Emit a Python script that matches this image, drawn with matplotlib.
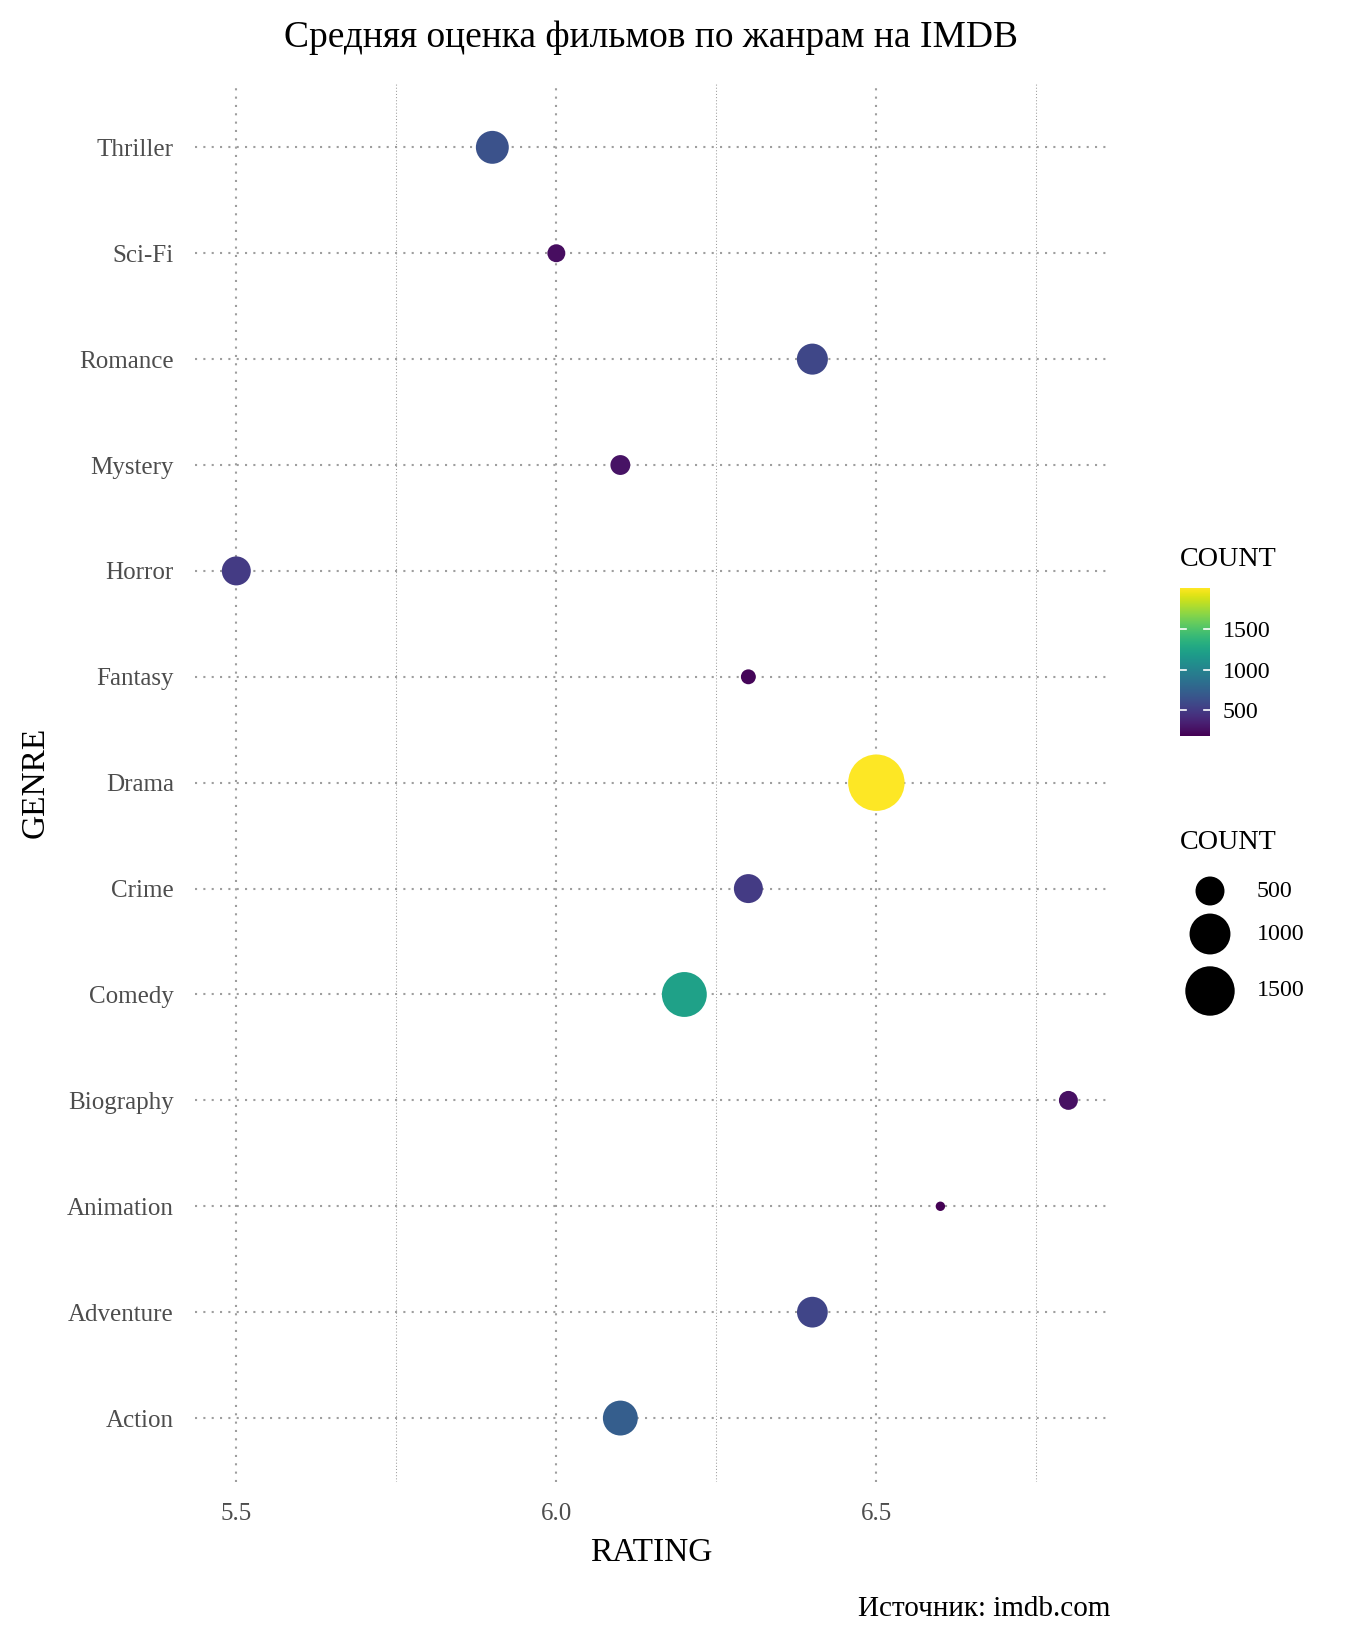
import matplotlib.pyplot as plt
import numpy as np
from matplotlib import cm
from matplotlib.colors import Normalize

plt.rcParams['font.family'] = ['Liberation Serif', 'DejaVu Serif']

genres = ['Action', 'Adventure', 'Animation', 'Biography', 'Comedy', 'Crime',
          'Drama', 'Fantasy', 'Horror', 'Mystery', 'Romance', 'Sci-Fi', 'Thriller']
rating = [6.1, 6.4, 6.6, 6.8, 6.2, 6.3, 6.5, 6.3, 5.5, 6.1, 6.4, 6.0, 5.9]
count = [720, 560, 185, 260, 1220, 500, 2000, 210, 500, 275, 570, 245, 640]
legend_counts = [500, 1000, 1500]

DPI = 150
W, H = 1350, 1650
cmin, cmax = min(count), max(count)
norm = Normalize(cmin, cmax)
cmap = cm.viridis


def diam_pt(c):
    # ggplot-style area scale, size range 1..6
    t = (np.asarray(c, dtype=float) - cmin) / (cmax - cmin)
    px = 9.4 * (1 + 5 * np.sqrt(t))
    return px * 72 / DPI


fig = plt.figure(figsize=(W / DPI, H / DPI), dpi=DPI)
ax = fig.add_axes([194.7 / W, 1 - 1481.6 / H, (1110 - 194.7) / W, (1481.6 - 83.8) / H])

y = np.arange(len(genres))
ax.scatter(rating, y, s=diam_pt(count) ** 2, c=cmap(norm(count)), linewidths=0, zorder=3)

ax.set_xlim(5.435, 6.865)
ax.set_ylim(-0.6, len(genres) - 0.4)
ax.set_xticks([5.5, 6.0, 6.5])
ax.set_xticks([5.75, 6.25, 6.75], minor=True)
ax.set_yticks(y)
ax.set_yticklabels(genres)
ax.set_axisbelow(True)
ax.grid(True, which='major', color='#9e9e9e', linewidth=1.0, linestyle=(0, (1, 3)))
ax.grid(True, which='minor', axis='x', color='#9e9e9e', linewidth=0.5, linestyle=(0, (1, 2)))
for s in ax.spines.values():
    s.set_visible(False)
ax.tick_params(which='both', length=0, labelsize=12, labelcolor='#4d4d4d')
ax.tick_params(axis='y', pad=10)
ax.tick_params(axis='x', pad=10.5)

fig.text(651 / W, 1 - 38 / H, 'Средняя оценка фильмов по жанрам на IMDB',
         ha='center', va='center', fontsize=18)
fig.text(651 / W, 1 - 1553 / H, 'RATING', ha='center', va='center', fontsize=16)
fig.text(35 / W, 1 - 782 / H, 'GENRE', ha='center', va='center', fontsize=16, rotation=90)
fig.text(1110 / W, 1 - 1609 / H, 'Источник: imdb.com', ha='right', va='center', fontsize=14)

# colour bar legend
cax = fig.add_axes([1180 / W, 1 - 736 / H, 30 / W, 148 / H])
grad = np.linspace(cmin, cmax, 300).reshape(-1, 1)
cax.imshow(grad, aspect='auto', cmap=cmap, norm=norm, origin='lower',
           extent=[0, 1, cmin, cmax])
for v in legend_counts:
    cax.plot([0, 0.2], [v, v], color='white', lw=0.8)
    cax.plot([0.8, 1], [v, v], color='white', lw=0.8)
cax.set_xlim(0, 1)
cax.set_ylim(cmin, cmax)
cax.set_xticks([])
cax.yaxis.tick_right()
cax.set_yticks(legend_counts)
cax.set_yticklabels([str(v) for v in legend_counts])
cax.tick_params(length=0, labelsize=11.5, pad=6)
for s in cax.spines.values():
    s.set_visible(False)
fig.text(1180 / W, 1 - 560 / H, 'COUNT', ha='left', va='center', fontsize=13.5)

# size legend
fig.text(1180 / W, 1 - 843 / H, 'COUNT', ha='left', va='center', fontsize=13.5)
sax = fig.add_axes([1150 / W, 1 - 1020 / H, 120 / W, 160 / H])
sax.set_xlim(1150, 1270)
sax.set_ylim(1020, 860)
sax.axis('off')
leg_y = [891, 934, 991]
sax.scatter([1210] * 3, leg_y, s=diam_pt(legend_counts) ** 2, c='black', linewidths=0)
for v, yy in zip(legend_counts, leg_y):
    fig.text(1257 / W, 1 - yy / H, str(v), ha='left', va='center', fontsize=11.5)

fig.savefig('out.png', dpi=DPI)
